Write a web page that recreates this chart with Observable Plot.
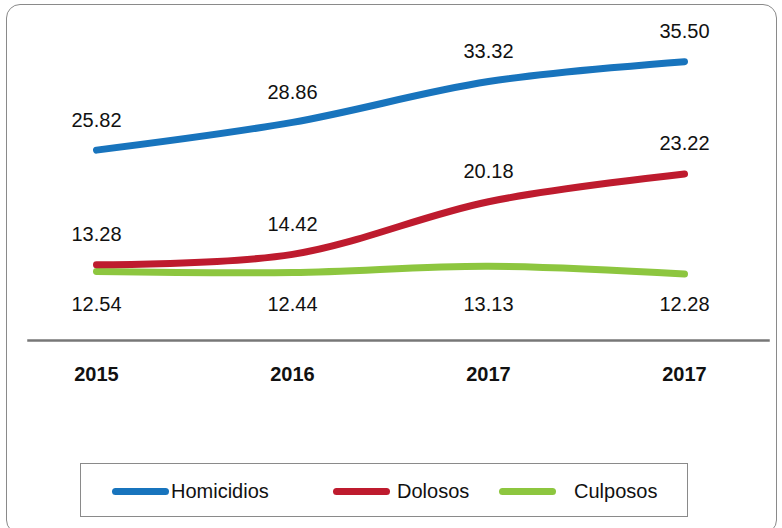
<!DOCTYPE html>
<html>
<head>
<meta charset="utf-8">
<script src="https://cdn.jsdelivr.net/npm/d3@7"></script>
<script src="https://cdn.jsdelivr.net/npm/@observablehq/plot@0.6"></script>
<style>
  html, body { margin: 0; padding: 0; background: #fff; }
  body { font-family: "Liberation Sans", Arial, Helvetica, sans-serif; }
  #wrap { position: relative; width: 782px; height: 528px; overflow: hidden; }
  #border { position: absolute; left: 6px; top: 4px; width: 771px; height: 530px;
    border: 1px solid #8a8a8a; border-radius: 14px; box-sizing: border-box; }
  #chart { position: absolute; left: 0; top: 0; }
  #legend { position: absolute; left: 80px; top: 463px; width: 608px; height: 54px;
    border: 1px solid #8a8a8a; box-sizing: border-box; background: #fff; }
  .sw { position: absolute; top: 24px; width: 57px; height: 7px; border-radius: 4px; }
  .lt { position: absolute; top: 14px; font-size: 20px; line-height: 26px; color: #111; }
</style>
</head>
<body>
<div id="wrap">
  <div id="border"></div>
  <div id="chart"></div>
  <div id="legend"></div>
</div>
<script>
const years = ["2015", "2016", "2017", "2017"];
const seriesNames = ["Homicidios", "Dolosos", "Culposos"];
const homicidios = [25.82, 28.86, 33.32, 35.50];
const dolosos = [13.28, 14.42, 20.18, 23.22];
const culposos = [12.54, 12.44, 13.13, 12.28];
const colors = ["#1874bd", "#be1b2e", "#8dc63f"];

const rows = (vals, name) => vals.map((v, i) => ({i, v, name, label: v.toFixed(2)}));
const hom = rows(homicidios, seriesNames[0]);
const dol = rows(dolosos, seriesNames[1]);
const cul = rows(culposos, seriesNames[2]);

const lineOpts = (c) => ({x: "i", y: "v", stroke: c, strokeWidth: 7, strokeLinecap: "round", curve: "catmull-rom"});
const textStyle = {fontSize: 20, fill: "#111"};

const plot = Plot.plot({
  width: 782,
  height: 420,
  marginLeft: 28,
  marginRight: 14,
  marginTop: 20,
  marginBottom: 80,
  style: {fontFamily: '"Liberation Sans", Arial, Helvetica, sans-serif', background: "transparent", color: "#111"},
  x: {type: "point", domain: [0, 1, 2, 3], range: [96, 684], padding: 0},
  y: {domain: [5, 40], axis: null},
  marks: [
    Plot.frame({anchor: "bottom", stroke: "#777", strokeWidth: 2.5}),
    Plot.axisX({tickSize: 0, tickPadding: 26, fontSize: 20, fontWeight: "bold", tickFormat: (i) => years[i], label: null}),
    Plot.line(cul, lineOpts(colors[2])),
    Plot.line(dol, lineOpts(colors[1])),
    Plot.line(hom, lineOpts(colors[0])),
    Plot.text(hom, {x: "i", y: "v", text: "label", dy: -30, ...textStyle}),
    Plot.text(dol, {x: "i", y: "v", text: "label", dy: -30, ...textStyle}),
    Plot.text(cul, {x: "i", text: "label", frameAnchor: "bottom", dy: -30, ...textStyle})
  ]
});
document.getElementById("chart").appendChild(plot);

const legend = document.getElementById("legend");
const swLeft = [31, 252, 418];
const txtLeft = [90, 316, 493];
seriesNames.forEach((n, k) => {
  const sw = document.createElement("div");
  sw.className = "sw";
  sw.style.left = swLeft[k] + "px";
  sw.style.background = colors[k];
  legend.appendChild(sw);
  const t = document.createElement("span");
  t.className = "lt";
  t.style.left = txtLeft[k] + "px";
  t.textContent = n;
  legend.appendChild(t);
});
</script>
</body>
</html>
